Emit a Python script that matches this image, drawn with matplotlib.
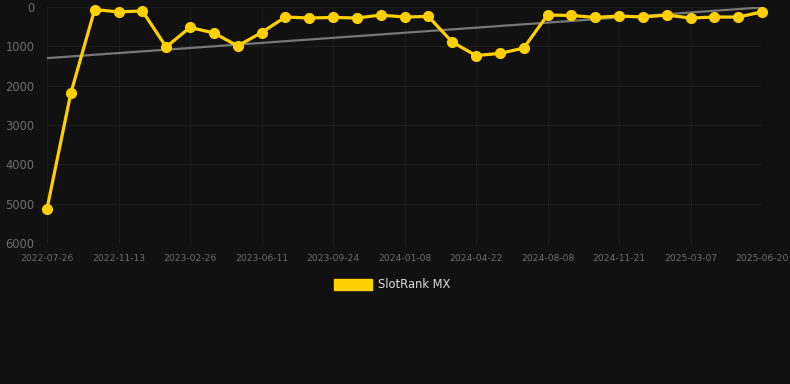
import matplotlib

matplotlib.use("Agg")
import matplotlib.pyplot as plt  # noqa: E402
from matplotlib.patches import Patch  # noqa: E402

# data (rank, lower is better -> inverted axis)
tick_labels = [
    "2022-07-26", "2022-11-13", "2023-02-26", "2023-06-11", "2023-09-24",
    "2024-01-08", "2024-04-22", "2024-08-08", "2024-11-21", "2025-03-07",
    "2025-06-20",
]
rank_mx = [
    5130, 2190, 65, 125, 100, 1015, 520, 660, 990, 650,
    255, 280, 265, 280, 205, 255, 240, 890, 1235, 1180,
    1045, 205, 215, 265, 230, 255, 205, 280, 255, 255,
    125,
]
trend_ends = [1300, 10]

BG = "#111111"
YELLOW = "#ffd000"


def main() -> None:
    fig = plt.figure(figsize=(7.9, 3.84), dpi=100, facecolor=BG)
    ax = fig.add_axes([47 / 790, 141 / 384, 715 / 790, 236 / 384], facecolor=BG)

    x = list(range(len(rank_mx)))
    ax.plot([x[0], x[-1]], trend_ends, color="#777777", lw=1.6, zorder=2)
    ax.plot(x, rank_mx, color=YELLOW, lw=2.3, marker="o", ms=7,
            zorder=3, clip_on=False)

    ax.set_ylim(6000, 0)
    ax.set_xlim(0, len(rank_mx) - 1)
    ax.set_yticks(range(0, 6001, 1000))
    ax.set_xticks(x[::3])
    ax.set_xticklabels(tick_labels)

    ax.grid(True, color="#1d1d1d", lw=0.8)
    ax.set_axisbelow(True)
    for s in ax.spines.values():
        s.set_visible(False)
    ax.tick_params(axis="both", length=0, colors="#6e6e6e")
    ax.tick_params(axis="y", labelsize=8.3, pad=9)
    ax.tick_params(axis="x", labelsize=6.6, pad=8)

    fig.legend(
        handles=[Patch(facecolor=YELLOW, edgecolor=YELLOW, label="SlotRank MX")],
        loc="center",
        bbox_to_anchor=(392 / 790, 1 - 285 / 384),
        frameon=False,
        fontsize=8.3,
        labelcolor="#dddddd",
        handlelength=3.3,
        handleheight=1.0,
        handletextpad=0.5,
    )

    fig.savefig("out.png", dpi=100, facecolor=BG)


if __name__ == "__main__":
    main()
